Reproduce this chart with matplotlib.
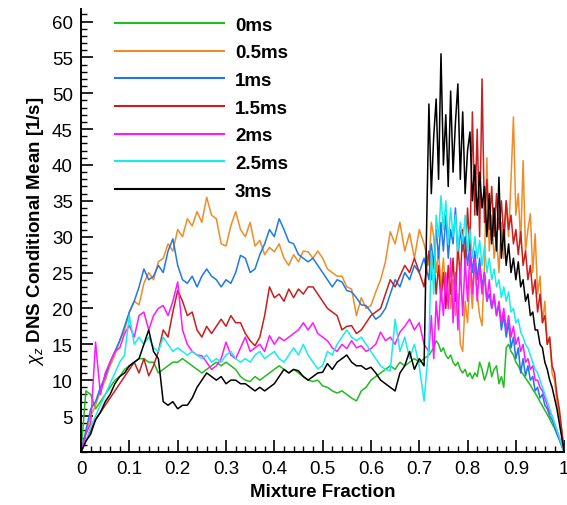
import numpy as np
import matplotlib
matplotlib.use("Agg")
import matplotlib.pyplot as plt
from matplotlib.ticker import MultipleLocator, FixedLocator

plt.rcParams['font.family'] = ['Liberation Sans', 'DejaVu Sans']
plt.rcParams['mathtext.fontset'] = 'custom'
plt.rcParams['mathtext.rm'] = 'Liberation Sans'
plt.rcParams['mathtext.it'] = 'Liberation Sans:italic'

#  Mixture fraction grid: coarse on the left, finer where the curves get noisy
z_left = np.round(np.arange(0, 72) * 0.01, 3)
z_right = np.round(0.72 + np.arange(0, 57) * 0.005, 3)

labels = ["0ms", "0.5ms", "1ms", "1.5ms", "2ms", "2.5ms", "3ms"]
colors = ["#22bb22", "#f08c28", "#1f78e6", "#c81e1e", "#ff18ff", "#18ecec", "#000000"]

#  chi_z, z = 0.00 .. 0.71
chi_0_left = [0, 8.5, 8, 6, 7, 8, 9, 10, 10.5, 11.5, 12, 12.5, 13, 13, 12.5, 12.5, 11, 11.5, 12, 12.5,
              12.5, 13, 12.5, 12, 11.5, 11, 11.5, 12, 12.5, 12, 12.5, 12, 11.5, 10.5, 10, 9.8, 10.5, 10, 10.5, 11,
              11.5, 12, 11.5, 11, 11.5, 11, 10.5, 10, 9.8, 10, 9.2, 9, 8.5, 8.2, 8.5, 8, 7.5, 7.1, 8.5, 9,
              10, 10.5, 11, 11.5, 12, 11.5, 12.5, 12, 12.5, 13, 12.5, 13]
chi_05_left = [0, 2.5, 5, 6.5, 8.5, 10, 12, 13.5, 15.5, 17, 19.5, 21, 20.5, 23.5, 25, 24, 26.5, 27, 29, 28,
               31, 30, 32.5, 31.5, 33.5, 32, 35.5, 33, 32.5, 29, 28.7, 31.5, 33.5, 31, 30, 32, 28.7, 29.5, 27.5, 28.5,
               27.9, 29, 27, 26, 27.5, 26.5, 28, 27.9, 27, 28, 27, 25.5, 25, 24.5, 24.5, 23, 22.7, 19, 21.5, 20,
               20.4, 22.3, 24, 26.5, 30.7, 29, 32, 28, 30.5, 27, 31, 29]
chi_1_left = [0, 3, 6, 7, 9, 10.5, 12.5, 14, 15.5, 17.5, 19.5, 21, 23, 25.5, 24, 24.5, 26, 25, 28, 29.7,
              26, 24, 23.5, 24.5, 23, 24.5, 25.5, 24.5, 24, 23, 24, 23.5, 25, 27.4, 27, 25, 25.5, 27.5, 29, 31,
              30, 32.5, 31, 29.3, 29, 27.5, 27, 26.5, 27, 26, 25, 24, 23, 24, 23.7, 22.5, 22.3, 21.5, 20.5, 20.4,
              19.5, 18.5, 19, 20, 22, 24, 23, 25, 24, 26, 25, 27]
chi_15_left = [0, 1.5, 3, 4.5, 5.5, 6.5, 7.5, 8.5, 9.5, 10.5, 11.5, 12.5, 11, 13, 10.6, 12, 14, 17, 16, 19.5,
               22.5, 21, 19, 19.5, 17, 16, 17.5, 16.5, 17.5, 18.5, 17.5, 19, 18, 18, 16.5, 15.5, 14.8, 16, 19, 23,
               21.5, 22, 21, 22.7, 21.5, 22.7, 22, 23, 23, 22, 21, 20, 19.5, 19, 17, 17.5, 17.6, 16.5, 17, 18,
               19, 19.5, 20, 22, 24, 23, 24.5, 26, 25, 27, 25, 23]
chi_2_left = [0, 2.5, 4, 15.3, 8, 11, 12.5, 14, 14.5, 16.5, 17.6, 16, 19, 19.5, 17, 19, 20, 20.4, 19, 21,
              23.7, 17, 15, 14, 13.5, 13.4, 12.5, 11.5, 12, 13, 15.3, 13.5, 13, 14.5, 16, 14, 14.5, 15, 14, 16.2,
              15, 16, 15.5, 16, 16.5, 17, 18, 17, 18, 16.5, 16, 15.5, 14.5, 14, 15, 14.4, 15.5, 14.5, 14.8, 14,
              14.4, 15, 16.7, 15.5, 16, 15, 16.7, 17.5, 18.5, 17, 18, 15]
chi_25_left = [0, 1.5, 3.5, 5, 6.5, 8, 9.5, 11, 12.5, 13.5, 19, 15, 16, 15, 16, 14.5, 14, 16, 15, 14,
               14.5, 14, 13.5, 14, 13.5, 13, 13.5, 12.5, 13, 12.5, 13.5, 14, 13, 12.5, 13, 12.5, 13.5, 14, 13, 13.5,
               14, 13, 12.5, 13.5, 14.5, 13.5, 15, 13.5, 12.5, 11.6, 12, 14, 13.5, 15, 16, 17, 16, 15.5, 16, 15,
               14, 13, 12, 11.5, 11.3, 18.5, 14, 16, 13, 15, 12, 7.1]
chi_3_left = [0, 1.5, 2.5, 4.5, 5.5, 7, 8, 9.5, 10.5, 11, 12, 12.5, 13, 15, 17, 14, 13, 7, 6.5, 7,
              6, 6.5, 6.5, 7.5, 9, 10, 11, 10.5, 10, 10.5, 9.5, 10, 10, 9.5, 9.5, 9, 8.5, 9, 8.5, 9,
              9.5, 10.5, 11.5, 11, 11.5, 11.3, 10.5, 10, 10.5, 11, 11.1, 12.3, 11.5, 12.5, 13, 13.5, 12.5, 12, 12, 11.5,
              11.8, 11, 10, 9.5, 9, 8.5, 11, 12, 14, 11.5, 13, 12]

#  chi_z, z = 0.720 .. 1.000
chi_0_right = [13.5, 14, 14.5, 15.5, 15, 14, 14.5, 13.5, 13, 13.5, 12.5, 12, 12.5, 11.5, 11, 11.5, 10.5, 11, 10.2, 11,
               10.5, 12.5, 11.5, 10, 11, 12.5, 10.5, 11.5, 12, 9.5, 10.5, 9, 14.5, 15, 14, 13.5, 12.5, 12, 11.3, 10.8,
               10.3, 9.8, 9.3, 8.7, 8.2, 7.6, 7, 6.4, 5.8, 5.2, 4.6, 3.9, 3.3, 2.5, 1.7, 0.9, 0]
chi_05_right = [26, 32, 30, 25, 28, 23, 27, 22, 25, 20, 24, 19, 22, 15, 14, 21, 18, 25, 20, 27,
                22, 19, 17.6, 26, 41, 28, 33, 27, 30, 25, 32, 27, 35, 30, 38, 46.7, 33, 36, 29, 40.6,
                28, 31, 33.2, 25, 30.4, 22, 24.5, 18, 21, 15, 16, 11, 10, 7, 5, 3, 0]
chi_1_right = [24, 29, 26, 31, 27, 32, 28, 33, 27, 31, 29, 34, 27, 31, 28, 30, 26, 29, 25, 28,
               24, 27, 23, 25, 21, 22, 20, 21.5, 19, 20.5, 17, 19, 16, 18, 14.5, 16, 13, 14.5, 11, 13,
               10.6, 12, 10, 10.5, 8.5, 9, 7.5, 8, 6.5, 6, 5, 4.5, 3.5, 2.5, 1.7, 0.8, 0]
chi_15_right = [28, 24, 27, 22, 26, 21, 25, 20, 26, 22, 27, 21, 29, 24, 31, 26, 34, 28, 47.4, 33,
                45, 30, 52, 32, 38, 31, 37, 30, 36, 31, 35, 30, 35, 31, 33, 29, 31, 27.5, 30.7, 26,
                28, 24, 26, 22, 24, 19.5, 22, 18, 19, 15, 16, 12, 11, 8, 6, 3, 0]
chi_2_right = [14, 19, 13, 21, 17, 23, 19, 25, 20, 27, 18, 25, 17, 26, 19, 27, 21, 28, 22, 27,
               21, 26, 22, 25, 21, 24, 20, 22, 19, 21, 18, 20, 17, 19, 16, 17.5, 15, 16, 14, 15,
               12.5, 13, 11.5, 12, 10, 10, 9, 8.5, 7.5, 6.5, 5.5, 5, 4, 3, 2, 1, 0]
chi_25_right = [15, 28, 22, 33, 30, 35.7, 31, 35, 29, 34, 30, 33, 28, 32, 29, 33, 28, 31, 27, 30,
                27, 29.5, 26, 28.7, 25, 27, 24, 25.5, 23, 24, 21.5, 23, 21, 22.3, 19.5, 20, 18, 18.5, 16.7, 16,
                15, 14.5, 13.5, 12.5, 11.5, 11, 10, 9, 8, 7, 6, 5, 4, 3, 2, 1, 0]
chi_3_right = [48.5, 36, 44, 49.2, 38, 55.5, 40, 47, 37, 50.3, 39, 46, 51.3, 38, 47.4, 36, 42, 44.6, 35, 40,
               33, 39, 34, 37, 30, 36, 29, 34, 28, 38.3, 27, 31, 26, 29, 25, 27, 24, 26.5, 23, 24,
               21, 22, 19, 19.5, 17, 17, 15, 14.5, 12.5, 11.5, 10, 9, 7.5, 6, 4, 2, 0]

series = [
    (chi_0_left, chi_0_right),
    (chi_05_left, chi_05_right),
    (chi_1_left, chi_1_right),
    (chi_15_left, chi_15_right),
    (chi_2_left, chi_2_right),
    (chi_25_left, chi_25_right),
    (chi_3_left, chi_3_right),
]

fig = plt.figure(figsize=(5.67, 5.06), dpi=100)
ax = fig.add_axes([0.143, 0.105, 0.852, 0.876])

z = np.concatenate([z_left, z_right])
for (left, right), lab, col in zip(series, labels, colors):
    ax.plot(z, np.concatenate([left, right]), color=col, lw=1.1, label=lab)

ax.set_xlim(0, 1)
ax.set_ylim(0, 61.8)

ax.xaxis.set_major_locator(FixedLocator([0, 0.1, 0.2, 0.3, 0.4, 0.5, 0.6, 0.7, 0.8, 0.9, 1.0]))
ax.set_xticklabels(["0", "0.1", "0.2", "0.3", "0.4", "0.5", "0.6", "0.7", "0.8", "0.9", "1"])
ax.xaxis.set_minor_locator(MultipleLocator(0.02))
ax.yaxis.set_major_locator(FixedLocator([5, 10, 15, 20, 25, 30, 35, 40, 45, 50, 55, 60]))
ax.yaxis.set_minor_locator(MultipleLocator(1))

ax.tick_params(which='major', direction='in', length=8.5, width=1.2, labelsize=13.5, pad=6)
ax.tick_params(which='minor', direction='in', length=4.5, width=1.0)
ax.tick_params(top=False, right=False, which='both')

for side in ['top', 'right']:
    ax.spines[side].set_visible(False)
for side in ['left', 'bottom']:
    ax.spines[side].set_linewidth(1.4)

ax.set_xlabel("Mixture Fraction", fontsize=13.5, fontweight='bold', labelpad=4)
ax.set_ylabel(r"$\chi_z$ DNS Conditional Mean [1/s]", fontsize=13.5, fontweight='bold', labelpad=4)

leg = ax.legend(loc='upper left', bbox_to_anchor=(0.051, 1.003), frameon=False,
                handlelength=5.8, handletextpad=0.6, labelspacing=0.56, borderpad=0,
                prop={'size': 13.5, 'weight': 'bold'})
for line in leg.get_lines():
    line.set_linewidth(1.5)

fig.savefig("out.png", dpi=100)
